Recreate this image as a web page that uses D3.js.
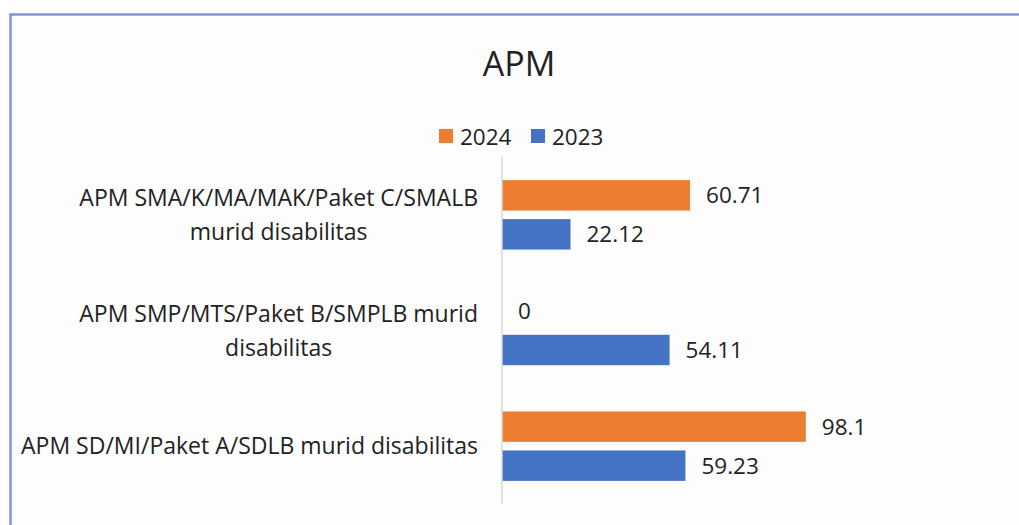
<!DOCTYPE html>
<html>
<head>
<meta charset="utf-8">
<script src="https://cdn.jsdelivr.net/npm/d3@7"></script>
<style>
  body { margin: 0; background: #fff; }
  svg text { font-family: "Open Sans", "Noto Sans", sans-serif; fill: #222; }
</style>
</head>
<body>
<svg width="1019" height="525"></svg>
<script>
// categories, top to bottom
var categories = [
  ["APM SMA/K/MA/MAK/Paket C/SMALB", "murid disabilitas"],
  ["APM SMP/MTS/Paket B/SMPLB murid", "disabilitas"],
  ["APM SD/MI/Paket A/SDLB murid disabilitas"]
];
var seriesNames = ["2024", "2023"];
var values2024 = [60.71, 0, 98.1];
var values2023 = [22.12, 54.11, 59.23];
var seriesColors = ["#ed7d31", "#4472c4"];

var svg = d3.select("svg"),
    width = +svg.attr("width"),
    height = +svg.attr("height");

// frame
svg.append("rect")
  .attr("x", 10.5).attr("y", 14.5)
  .attr("width", width + 20).attr("height", height)
  .attr("fill", "#fdfdfd")
  .attr("stroke", "#7a98d8").attr("stroke-width", 2.5);

var plotLeft = 502, plotTop = 157, plotBottom = 504;

var catKeys = categories.map(function(c, i) { return "c" + i; });

var y0 = d3.scaleBand()
  .domain(catKeys)
  .range([plotTop, plotBottom])
  .paddingInner(0.4)
  .paddingOuter(0.2);

var y1 = d3.scaleBand()
  .domain(seriesNames)
  .range([0, y0.bandwidth()])
  .paddingInner(0.22);

var x = d3.scaleLinear().domain([0, 100]).range([plotLeft, plotLeft + 309.7]);

var data = catKeys.map(function(k, i) {
  return { key: k, vals: [values2024[i], values2023[i]] };
});

// title
svg.append("text")
  .attr("x", 519).attr("y", 76)
  .attr("text-anchor", "middle")
  .style("font-size", "34px")
  .text("APM");

// legend
var legend = svg.append("g");
var legX = [439, 531];
seriesNames.forEach(function(s, i) {
  legend.append("rect")
    .attr("x", legX[i]).attr("y", 129)
    .attr("width", 14).attr("height", 14)
    .attr("fill", seriesColors[i]);
  legend.append("text")
    .attr("x", legX[i] + 21).attr("y", 145)
    .style("font-size", "22.5px")
    .text(s);
});

// bars
var groups = svg.selectAll(".grp")
  .data(data)
  .enter().append("g")
  .attr("class", "grp")
  .attr("transform", function(d) { return "translate(0," + y0(d.key) + ")"; });

groups.selectAll("rect")
  .data(function(d) { return d.vals.map(function(v, j) { return { s: seriesNames[j], v: v, j: j }; }); })
  .enter().append("rect")
  .attr("x", x(0))
  .attr("y", function(d) { return y1(d.s); })
  .attr("height", y1.bandwidth())
  .attr("width", function(d) { return x(d.v) - x(0); })
  .attr("fill", function(d) { return seriesColors[d.j]; });

groups.selectAll("text.val")
  .data(function(d) { return d.vals.map(function(v, j) { return { s: seriesNames[j], v: v }; }); })
  .enter().append("text")
  .attr("class", "val")
  .attr("x", function(d) { return x(d.v) + 16; })
  .attr("y", function(d) { return y1(d.s) + y1.bandwidth() / 2; })
  .attr("dy", "0.35em")
  .style("font-size", "22.5px")
  .text(function(d) { return d.v; });

// axis line
svg.append("line")
  .attr("x1", x(0)).attr("x2", x(0))
  .attr("y1", plotTop).attr("y2", plotBottom)
  .attr("stroke", "#d9d9d9").attr("stroke-width", 1.5);

// category labels, lines centered, block right-aligned
var labelRight = 478;
categories.forEach(function(lines, i) {
  var cy = y0(catKeys[i]) + y0.bandwidth() / 2;
  var g = svg.append("g");
  var lh = 34;
  var texts = lines.map(function(t, k) {
    return g.append("text")
      .attr("x", 0)
      .attr("y", cy + (k - (lines.length - 1) / 2) * lh)
      .attr("dy", "0.35em")
      .attr("text-anchor", "middle")
      .style("font-size", "23px")
      .text(t);
  });
  var w = d3.max(texts, function(t) { return t.node().getComputedTextLength(); });
  g.attr("transform", "translate(" + (labelRight - w / 2) + ",0)");
});
</script>
</body>
</html>
